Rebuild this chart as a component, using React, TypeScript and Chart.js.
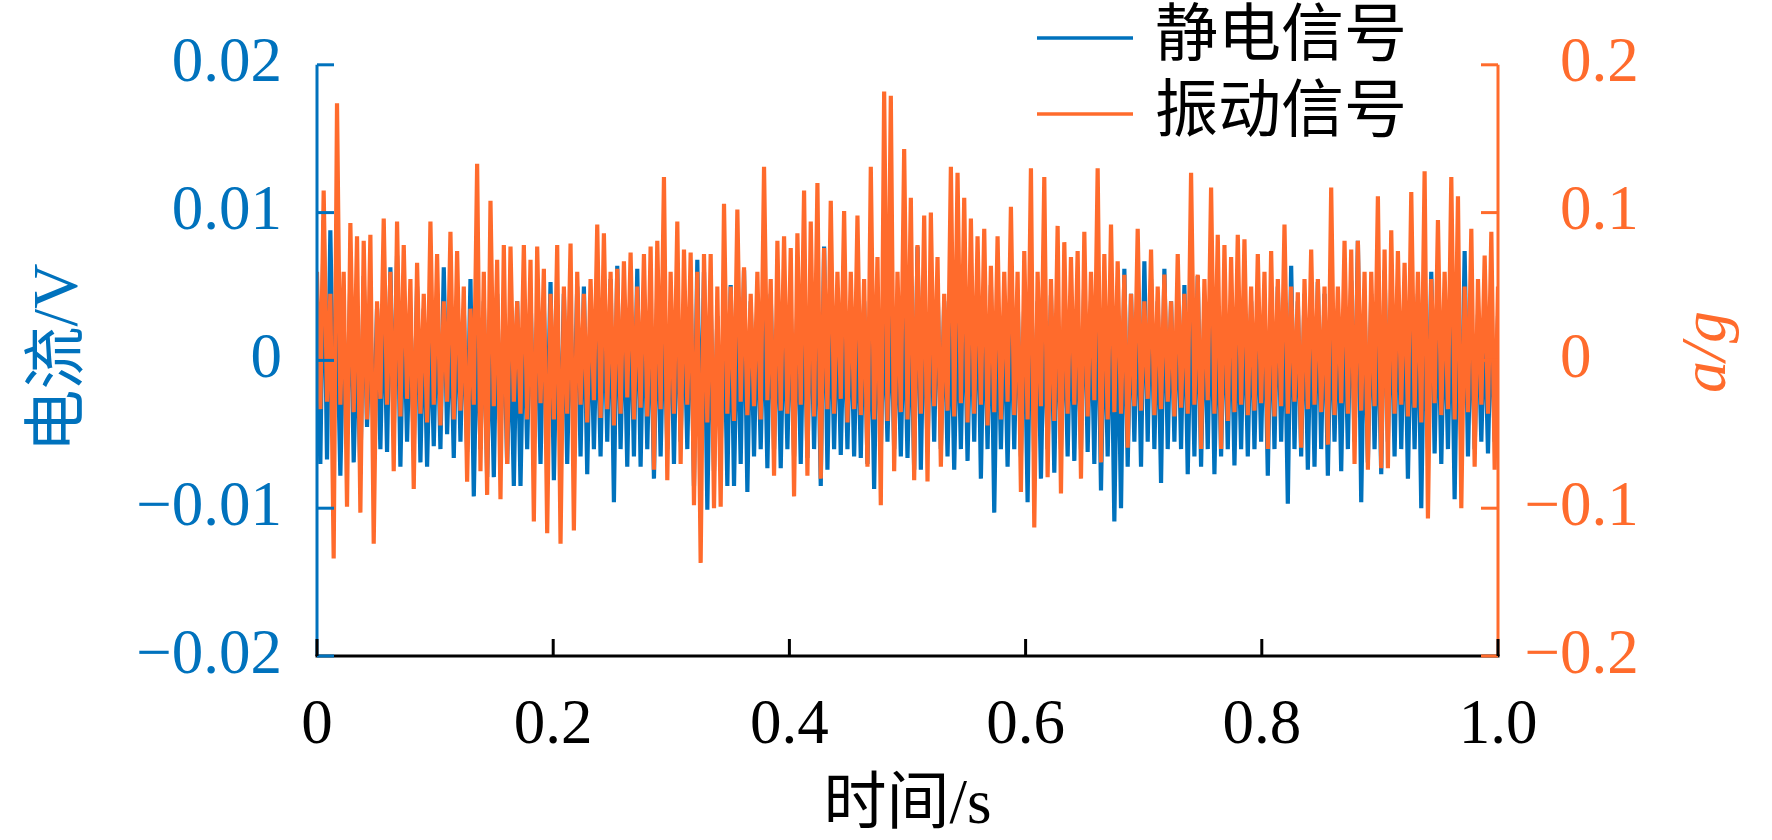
import { useEffect, useRef } from "react";
import { Chart, registerables } from "chart.js";

Chart.register(...registerables);

const BLUE = "#0072BD";
const ORANGE = "#FF6B2C";
const FONT = '"Liberation Serif", "Noto Sans CJK SC", serif';

// sampling: 355 samples over 1 s
const SAMPLE_STEP = 1 / 354;

// 静电信号, unit 1e-4 V
const staticRaw = [
  20, -70, 95, -67, 88, -40, 30, -78, 25, -50, 55, -69, 20, -77, 57, -45, 30, -55, 35, -60,
  45, -62, 63, -50, 71, -72, 40, -55, 30, -60, 50, -69, 35, -72, 25, -58, 40, -60, 63, -50,
  30, -66, 45, -55, 35, -62, 55, -92, 30, -60, 40, -79, 25, -79, 45, -55, 30, -70, 20, -85,
  40, -85, 35, -60, 45, -55, 30, -70, 35, -50, 53, -81, 30, -60, 45, -70, 35, -55, 50, -65,
  50, -77, 40, -60, 35, -65, 45, -55, 55, -96, 64, -60, 40, -72, 45, -65, 62, -72, 45, -60,
  40, -80, 50, -65, 35, -60, 40, -70, 45, -55, 35, -60, 50, -85, 68, -70, 60, -101, 40, -75,
  30, -60, 35, -85, 51, -85, 40, -70, 61, -89, 40, -65, 35, -60, 40, -73, 45, -60, 35, -73,
  40, -60, 35, -65, 40, -70, 45, -66, 48, -60, 40, -85, 77, -74, 45, -60, 36, -64, 35, -60,
  40, -65, 35, -66, 40, -70, 41, -87, 45, -60, 35, -55, 40, -60, 26, -65, 40, -66, 35, -74,
  77, -74, 45, -60, 40, -55, 53, -60, 40, -65, 35, -74, 40, -60, 51, -68, 40, -55, 60, -80,
  45, -60, 51, -103, 40, -60, 35, -72, 40, -60, 44, -65, 40, -96, 66, -70, 40, -80, 35, -60,
  44, -76, 40, -60, 35, -65, 40, -68, 35, -60, 57, -62, 40, -70, 60, -88, 40, -65, 45, -109,
  40, -100, 62, -72, 45, -55, 44, -72, 67, -55, 55, -60, 40, -83, 62, -60, 40, -55, 45, -60,
  51, -77, 40, -65, 57, -72, 40, -60, 51, -77, 40, -65, 45, -60, 40, -71, 35, -60, 44, -65,
  40, -60, 35, -55, 40, -78, 45, -60, 50, -55, 40, -97, 64, -60, 40, -65, 45, -74, 40, -72,
  53, -60, 45, -78, 40, -55, 35, -75, 40, -60, 54, -55, 81, -96, 40, -69, 45, -60, 35, -77,
  61, -55, 40, -65, 50, -60, 45, -80, 40, -60, 45, -100, 40, -60, 60, -63, 45, -70, 40, -60,
  51, -94, 45, -60, 74, -65, 35, -60, 31, -55, 30, -63, 35, -55, 30,
];

// 振动信号, unit 1e-3 g
const vibRaw = [
  60, -33, 115, -28, 45, -134, 174, -30, 60, -99, 93, -35, 84, -103, 81, -40, 85, -124, 40, -26,
  96, -30, 60, -75, 94, -38, 78, -26, 55, -87, 66, -36, 45, -42, 94, -30, 72, -44, 40, -28,
  87, -40, 74, -34, 50, -82, 35, -30, 133, -75, 60, -91, 108, -31, 68, -94, 78, -70, 77, -28,
  40, -36, 78, -40, 68, -109, 77, -29, 62, -117, 45, -40, 78, -124, 50, -36, 79, -115, 60, -30,
  45, -42, 55, -27, 92, -39, 86, -33, 60, -44, 62, -36, 67, -25, 73, -40, 50, -32, 72, -38,
  77, -74, 81, -33, 124, -81, 60, -36, 94, -70, 75, -30, 73, -98, 60, -137, 72, -42, 72, -100,
  50, -99, 106, -36, 50, -41, 102, -28, 63, -37, 45, -31, 60, -40, 131, -27, 55, -78, 81, -34,
  84, -36, 76, -92, 86, -30, 115, -78, 94, -38, 120, -80, 76, -33, 108, -36, 60, -26, 101, -42,
  60, -33, 98, -37, 55, -72, 131, -40, 70, -98, 182, -41, 179, -75, 60, -35, 143, -40, 110, -81,
  78, -36, 98, -82, 100, -31, 70, -72, 45, -34, 131, -38, 127, -29, 110, -42, 96, -36, 84, -30,
  89, -44, 64, -35, 84, -40, 60, -28, 104, -37, 60, -89, 74, -40, 130, -113, 60, -31, 124, -79,
  55, -41, 91, -90, 80, -36, 70, -30, 74, -80, 87, -38, 60, -27, 130, -69, 72, -40, 92, -35,
  67, -36, 58, -59, 45, -31, 89, -34, 40, -26, 75, -37, 50, -33, 58, -28, 40, -38, 72, -32,
  45, -36, 127, -30, 58, -60, 55, -27, 117, -36, 85, -60, 78, -41, 70, -35, 85, -30, 82, -37,
  50, -34, 72, -29, 60, -60, 74, -38, 55, -31, 92, -36, 50, -28, 46, -59, 55, -33, 75, -30,
  55, -35, 50, -57, 117, -37, 50, -29, 81, -36, 75, -70, 81, -34, 60, -74, 60, -31, 111, -73,
  75, -73, 88, -36, 74, -30, 66, -38, 114, -32, 60, -42, 128, -107, 55, -29, 95, -37, 60, -33,
  124, -40, 111, -100, 50, -35, 89, -72, 55, -30, 71, -36, 87, -74, 50,
];

const staticVolts = staticRaw.map((v) => v / 10000);
const vibG = vibRaw.map((v) => v / 1000);

const xTicks = [0, 0.2, 0.4, 0.6, 0.8, 1.0];
const xTickLabels = ["0", "0.2", "0.4", "0.6", "0.8", "1.0"];
const leftTicks = [-0.02, -0.01, 0, 0.01, 0.02];
const leftTickLabels = ["−0.02", "−0.01", "0", "0.01", "0.02"];
const rightTicks = [-0.2, -0.1, 0, 0.1, 0.2];
const rightTickLabels = ["−0.2", "−0.1", "0", "0.1", "0.2"];

const seriesNames = ["静电信号", "振动信号"];

const TICK_LEN = 17;

const decorPlugin = {
  id: "decor",
  afterDraw(chart: any) {
    const { ctx, chartArea: a, scales } = chart;
    const sx = scales.x;
    const yl = scales.y;
    const yr = scales.y1;
    const seg = (x1: number, y1: number, x2: number, y2: number) => {
      ctx.beginPath();
      ctx.moveTo(x1, y1);
      ctx.lineTo(x2, y2);
      ctx.stroke();
    };
    ctx.save();
    ctx.lineWidth = 3;
    ctx.lineCap = "butt";

    // axis lines on top of data
    ctx.strokeStyle = BLUE;
    seg(a.left, a.top, a.left, a.bottom);
    ctx.strokeStyle = ORANGE;
    seg(a.right, a.top, a.right, a.bottom);
    ctx.strokeStyle = "#000";
    seg(a.left - 1.5, a.bottom, a.right + 1.5, a.bottom);

    // inward ticks
    ctx.strokeStyle = BLUE;
    leftTicks.forEach((v) => {
      const py = yl.getPixelForValue(v);
      seg(a.left, py, a.left + TICK_LEN, py);
    });
    ctx.strokeStyle = ORANGE;
    rightTicks.forEach((v) => {
      const py = yr.getPixelForValue(v);
      seg(a.right - TICK_LEN, py, a.right, py);
    });
    ctx.strokeStyle = "#000";
    xTicks.forEach((v) => {
      const px = sx.getPixelForValue(v);
      seg(px, a.bottom, px, a.bottom - TICK_LEN);
    });

    // right tick labels, minus sign hanging left
    ctx.fillStyle = ORANGE;
    ctx.font = `63px ${FONT}`;
    ctx.textBaseline = "middle";
    const lx = a.right + 62;
    rightTicks.forEach((v, i) => {
      const py = yr.getPixelForValue(v);
      const txt = rightTickLabels[i];
      if (txt.startsWith("−")) {
        ctx.textAlign = "right";
        ctx.fillText("−", lx, py);
        ctx.textAlign = "left";
        ctx.fillText(txt.slice(1), lx, py);
      } else {
        ctx.textAlign = "left";
        ctx.fillText(txt, lx, py);
      }
    });

    // axis titles
    ctx.textAlign = "center";
    ctx.fillStyle = "#000";
    ctx.fillText("时间/s", (a.left + a.right) / 2, 806);

    ctx.save();
    ctx.translate(60, 358);
    ctx.rotate(-Math.PI / 2);
    ctx.fillStyle = BLUE;
    ctx.fillText("电流/V", 0, 0);
    ctx.restore();

    ctx.save();
    ctx.translate(1708, 352);
    ctx.rotate(-Math.PI / 2);
    ctx.fillStyle = ORANGE;
    ctx.font = `italic 64px ${FONT}`;
    ctx.fillText("a/g", 0, 0);
    ctx.restore();

    // legend
    const legendColors = [BLUE, ORANGE];
    const legendY = [38, 114];
    ctx.lineWidth = 3.5;
    seriesNames.forEach((name, i) => {
      ctx.strokeStyle = legendColors[i];
      seg(1037, legendY[i], 1133, legendY[i]);
      ctx.fillStyle = "#000";
      ctx.textAlign = "left";
      ctx.font = `63px ${FONT}`;
      ctx.fillText(name, 1155, legendY[i]);
    });

    ctx.restore();
  },
};

export default function App() {
  const canvasRef = useRef<HTMLCanvasElement>(null);

  useEffect(() => {
    const ctx = canvasRef.current?.getContext("2d");
    if (!ctx) return;

    const chart = new Chart(ctx, {
      type: "line",
      data: {
        datasets: [
          {
            label: seriesNames[0],
            data: staticVolts.map((v, i) => ({ x: i * SAMPLE_STEP, y: v })),
            borderColor: BLUE,
            borderWidth: 4.2,
            pointRadius: 0,
            tension: 0,
            yAxisID: "y",
            order: 2,
          },
          {
            label: seriesNames[1],
            data: vibG.map((v, i) => ({ x: i * SAMPLE_STEP, y: v })),
            borderColor: ORANGE,
            borderWidth: 4.2,
            pointRadius: 0,
            tension: 0,
            yAxisID: "y1",
            order: 1,
          },
        ],
      },
      options: {
        responsive: true,
        maintainAspectRatio: false,
        animation: false,
        layout: { padding: { top: 52, left: 0, right: 0, bottom: 0 } },
        plugins: {
          legend: { display: false },
          tooltip: { enabled: false },
        },
        scales: {
          x: {
            type: "linear",
            position: "bottom",
            min: 0,
            max: 1,
            grid: { display: false },
            border: { display: false },
            afterBuildTicks: (s: any) => {
              s.ticks = xTicks.map((v) => ({ value: v }));
            },
            ticks: {
              color: "#000",
              font: { family: FONT, size: 63 },
              padding: 25,
              maxRotation: 0,
              autoSkip: false,
              callback: (_v: any, i: number) => xTickLabels[i],
            },
            afterFit: (s: any) => {
              s.height = 184;
            },
          },
          y: {
            type: "linear",
            position: "left",
            min: -0.02,
            max: 0.02,
            grid: { display: false },
            border: { display: false },
            afterBuildTicks: (s: any) => {
              s.ticks = leftTicks.map((v) => ({ value: v }));
            },
            ticks: {
              color: BLUE,
              font: { family: FONT, size: 63 },
              padding: 27,
              autoSkip: false,
              callback: (_v: any, i: number) => leftTickLabels[i],
            },
            afterFit: (s: any) => {
              s.width = 317;
            },
          },
          y1: {
            type: "linear",
            position: "right",
            min: -0.2,
            max: 0.2,
            grid: { display: false },
            border: { display: false },
            afterBuildTicks: (s: any) => {
              s.ticks = rightTicks.map((v) => ({ value: v }));
            },
            ticks: { display: false },
            afterFit: (s: any) => {
              s.width = 274;
            },
          },
        },
      },
      plugins: [decorPlugin],
    });

    return () => {
      chart.destroy();
    };
  }, []);

  return (
    <div style={{ position: "absolute", left: 0, top: 0, width: 1772, height: 840, background: "#fff" }}>
      <canvas ref={canvasRef} />
    </div>
  );
}
